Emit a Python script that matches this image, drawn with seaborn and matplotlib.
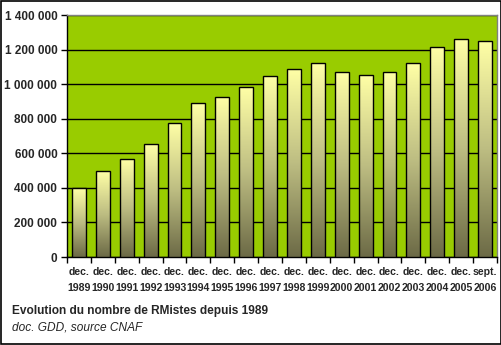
import numpy as np
import pandas as pd
import matplotlib
matplotlib.use("Agg")
import matplotlib.pyplot as plt
import seaborn as sns
from matplotlib.colors import LinearSegmentedColormap
from matplotlib.patches import Rectangle

years = ["1989", "1990", "1991", "1992", "1993", "1994", "1995", "1996", "1997",
         "1998", "1999", "2000", "2001", "2002", "2003", "2004", "2005", "2006"]
months = ["dec."] * 17 + ["sept."]
values = [398000, 497000, 567000, 652000, 773000, 889000, 926000, 982000, 1045000,
          1086000, 1121000, 1068000, 1051000, 1068000, 1121000, 1213000, 1259000, 1248000]
yticks = [0, 200000, 400000, 600000, 800000, 1000000, 1200000, 1400000]
title = "Evolution du nombre de RMistes depuis 1989"
subtitle = "doc. GDD, source CNAF"

labels = [f"{m}\n{y}" for m, y in zip(months, years)]
df = pd.DataFrame({"label": labels, "value": values})

sns.set_style("white")
plt.rcParams['font.family'] = ['Liberation Sans', 'DejaVu Sans']

fig = plt.figure(figsize=(5.02, 3.45), dpi=100)
ax = fig.add_axes([0.1335, 0.255, 0.8565, 0.7015])
ax.set_facecolor("#99CC00")

sns.barplot(data=df, x="label", y="value", ax=ax, width=0.58,
            color="#FFFF99", edgecolor="black", linewidth=1.0, zorder=3)

ax.set_ylim(0, 1400000)
ax.set_xlim(-0.5, len(values) - 0.5)
ax.set_yticks(yticks)
ax.set_yticklabels([f"{v:,}".replace(",", " ") for v in yticks],
                   fontsize=8.5, fontweight="bold")
ax.yaxis.grid(True, color="black", linewidth=1.0, zorder=1)
ax.set_axisbelow(True)
ax.set_xlabel("")
ax.set_ylabel("")

# gradient fill inside bars
cmap = LinearSegmentedColormap.from_list(
    "g", [(0.0, "#6C6A46"), (0.5, "#BDBD82"), (1.0, "#FFFFA6")])
grad = np.linspace(0, 1, 256).reshape(-1, 1)
for p in list(ax.patches):
    x0, y0 = p.get_x(), p.get_y()
    w, h = p.get_width(), p.get_height()
    p.set_facecolor("none")
    im = ax.imshow(grad, cmap=cmap, aspect="auto", origin="lower",
                   extent=[x0, x0 + w, y0, y0 + h], zorder=2.9)
    im.set_clip_path(p)
ax.set_xlim(-0.5, len(values) - 0.5)
ax.set_ylim(0, 1400000)

# x ticks at category boundaries, labels at centers
ax.set_xticks(np.arange(len(values)))
ax.set_xticklabels(labels, fontsize=7.6, fontweight="bold", linespacing=1.75)
ax.tick_params(axis="x", length=0, pad=7)
ax.set_xticks(np.arange(-0.5, len(values)), minor=True)
ax.tick_params(axis="x", which="minor", length=4, width=1, color="black", direction="out", bottom=True)
ax.tick_params(axis="y", length=4, width=1, color="black", direction="out", left=True, pad=3)

for s in ["top", "right"]:
    ax.spines[s].set_color("#808080")
    ax.spines[s].set_linewidth(1)
ax.spines["left"].set_color("black")
ax.spines["bottom"].set_color("black")
ax.spines["left"].set_linewidth(1)
ax.spines["bottom"].set_linewidth(1)

fig.text(12 / 502, 1 - 311 / 345, title, fontsize=8.6, fontweight="bold", va="center", ha="left")
fig.text(12 / 502, 1 - 327 / 345, subtitle, fontsize=8.6, style="italic", va="center", ha="left")

fig.patches.append(Rectangle((0.001, 0.002), 0.997, 0.996, transform=fig.transFigure,
                             fill=False, edgecolor="black", linewidth=1.2))

fig.savefig("out.png", dpi=100, facecolor="white")
